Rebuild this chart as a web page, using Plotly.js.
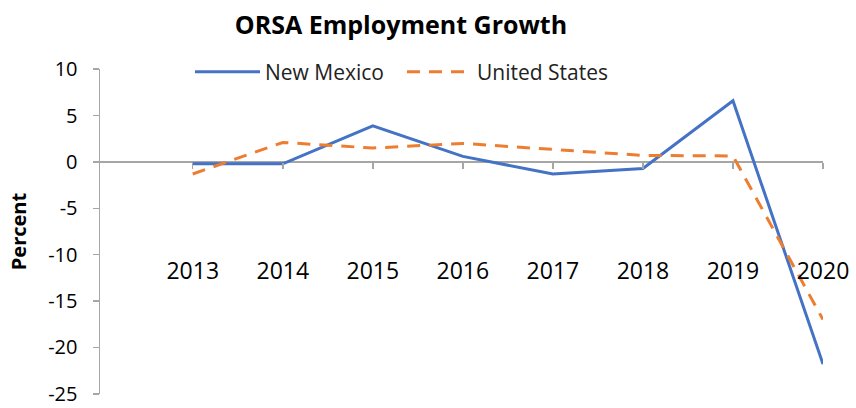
<!DOCTYPE html>
<html><head><meta charset="utf-8">
<script src="https://cdn.plot.ly/plotly-3.0.1.min.js"></script>
<style>html,body{margin:0;padding:0;background:#fff}#chart{width:856px;height:408px}</style>
</head><body><div id="chart"></div>
<script>
const years = ['2013','2014','2015','2016','2017','2018','2019','2020'];
const newMexico = [-0.2, -0.2, 3.9, 0.6, -1.3, -0.7, 6.6, -21.8];
const unitedStates = [-1.3, 2.1, 1.5, 2.0, 1.35, 0.7, 0.65, -17.0];
const yTicks = [10, 5, 0, -5, -10, -15, -20, -25];

const F = 'Open Sans, Liberation Sans, sans-serif';
const traces = [
  {x: years, y: newMexico, name: 'New Mexico', type: 'scatter', mode: 'lines',
   line: {color: '#4472C4', width: 3}},
  {x: years, y: unitedStates, name: 'United States', type: 'scatter', mode: 'lines',
   line: {color: '#ED7D31', width: 3, dash: '13px,9px'}}
];
const layout = {
  width: 856, height: 408,
  margin: {l: 100, r: 33, t: 69, b: 14, autoexpand: false},
  paper_bgcolor: '#fff', plot_bgcolor: '#fff',
  title: {text: '<b>ORSA Employment Growth</b>', x: 401/856, xanchor: 'center', xref: 'container',
          y: 1 - 25/408, yanchor: 'middle', yref: 'container',
          font: {family: F, size: 25, color: '#000'}},
  showlegend: true,
  legend: {orientation: 'h', x: (190-100)/723, xanchor: 'left', xref: 'paper',
           y: 1 - 3/325, yanchor: 'middle', yref: 'paper',
           font: {family: F, size: 21, color: '#222'},
           bgcolor: 'rgba(0,0,0,0)', itemwidth: 65, entrywidth: 132, entrywidthmode: 'pixels',
           traceorder: 'normal'},
  xaxis: {type: 'category', categoryorder: 'array', categoryarray: years,
          range: [-1.03, 7], showgrid: false, zeroline: false,
          anchor: 'free', position: 25.02/35.04, showline: false,
          ticks: 'outside', ticklen: 6, tickwidth: 1.5, tickcolor: '#a6a6a6',
          tickfont: {family: F, size: 23, color: '#000'},
          ticklabelstandoff: 82, automargin: false, fixedrange: true},
  yaxis: {range: [-25.02, 10.02], tickvals: yTicks, ticktext: yTicks.map(String),
          showgrid: false, zeroline: true, zerolinecolor: '#a6a6a6', zerolinewidth: 1.5,
          showline: true, linecolor: '#a6a6a6', linewidth: 1.5,
          ticks: 'outside', ticklen: 6, tickwidth: 1.5, tickcolor: '#a6a6a6',
          tickfont: {family: F, size: 20, color: '#000'}, automargin: true,
          ticklabelstandoff: 11, ticklabeloverflow: 'allow',
          title: {text: '<b>Percent</b>', font: {family: F, size: 20, color: '#000'}, standoff: 16}}
};
Plotly.newPlot('chart', traces, layout, {displayModeBar: false, staticPlot: true});
</script></body></html>
